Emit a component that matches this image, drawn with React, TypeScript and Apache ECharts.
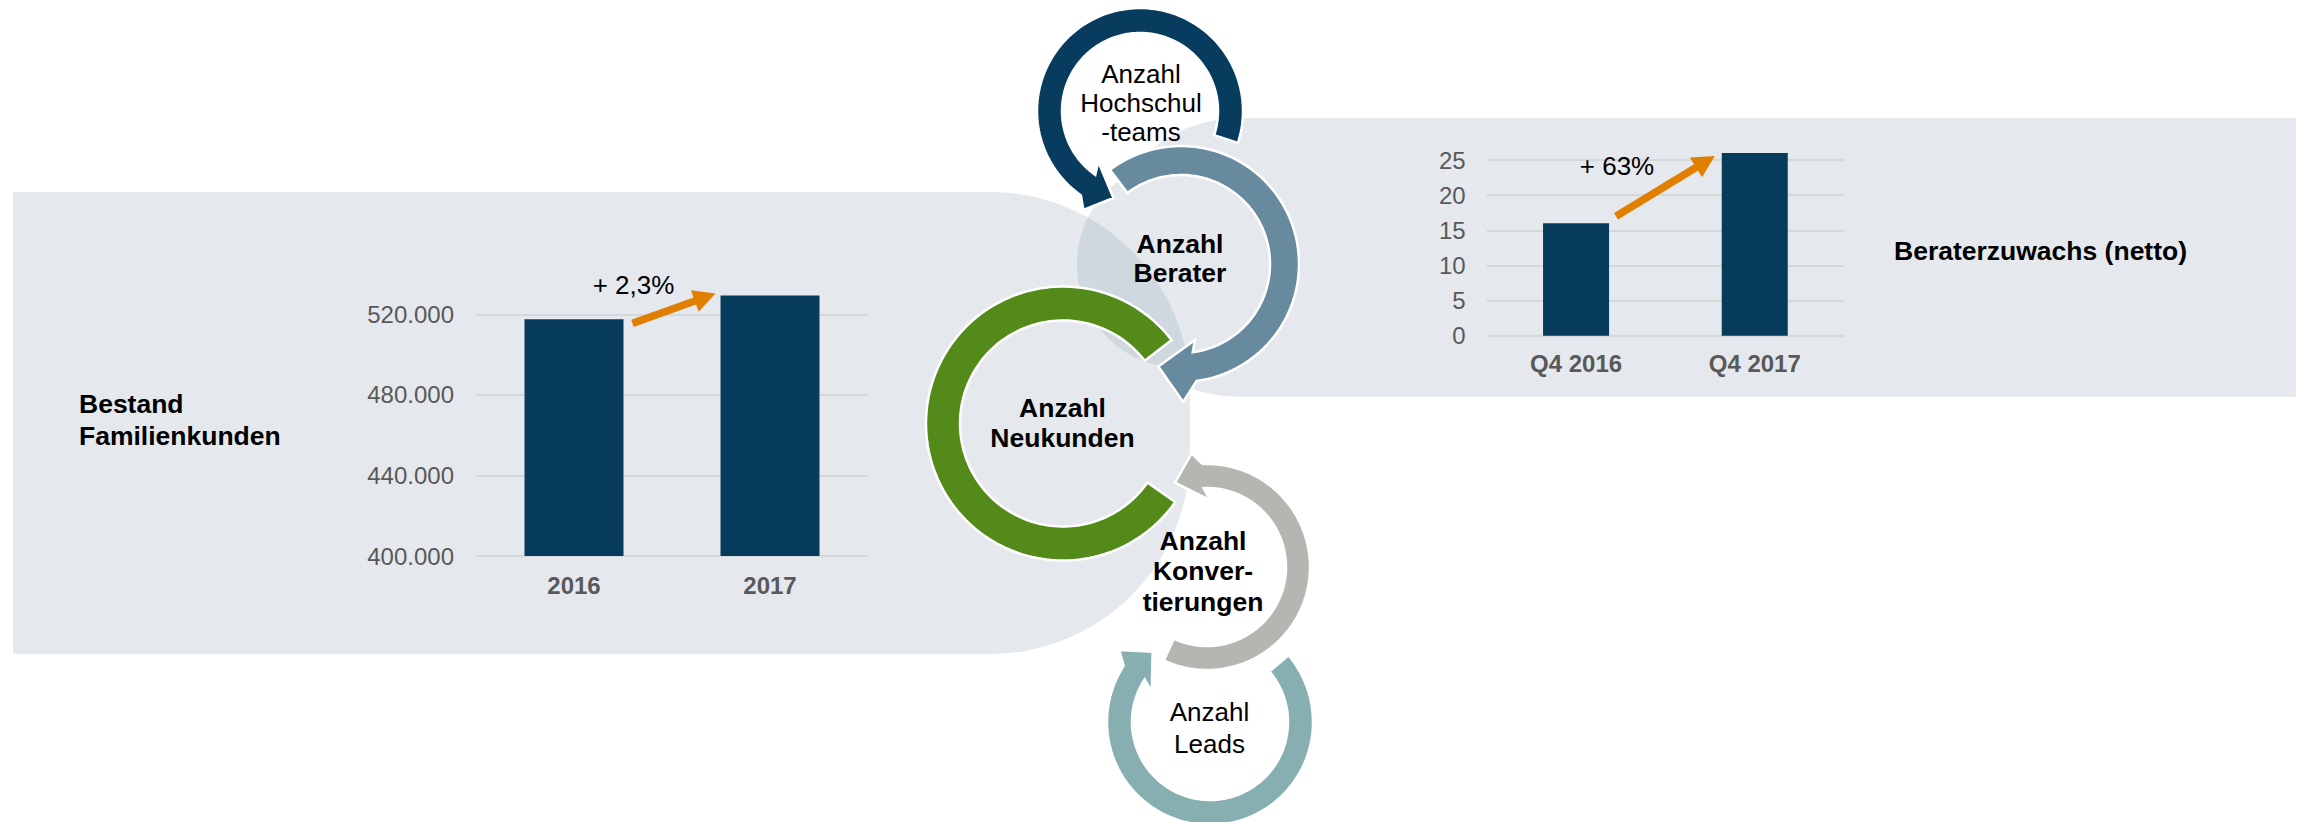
import { useEffect, useRef } from 'react';
import * as echarts from 'echarts';

// ---------------- data ----------------
const familyYears = ['2016', '2017'];
const familyCustomers = [517500, 529300];
const familyAxisMin = 400000;
const familyAxisMax = 532000;
const familyAxisStep = 40000;

const advisorQuarters = ['Q4 2016', 'Q4 2017'];
const advisorNetGrowth = [16, 26];
const advisorAxisMin = 0;
const advisorAxisMax = 27;
const advisorAxisStep = 5;

const familyChangeLabel = '+ 2,3%';
const advisorChangeLabel = '+ 63%';
const familyTitle = 'Bestand\nFamilienkunden';
const advisorTitle = 'Beraterzuwachs (netto)';

const cycleTexts = [
  'Anzahl\nHochschul\n-teams',
  'Anzahl\nBerater',
  'Anzahl\nNeukunden',
  'Anzahl\nKonver-\ntierungen',
  'Anzahl\nLeads',
];

// ---------------- styles / layout ----------------
const FONT = '"Liberation Sans", Arial, Helvetica, sans-serif';
const BAR_COLOR = '#063B5C';
const PANEL = '#E5E9ED';
const LENS = '#CED8DE';
const ORANGE = '#E07F00';
const AXIS_TEXT = '#595959';

const fmtDE = (v: number) => String(v).replace(/\B(?=(\d{3})+(?!\d))/g, '.');

const rad = (d: number) => (d * Math.PI) / 180;
const pt = (c: number[], r: number, a: number) => [c[0] + r * Math.cos(rad(a)), c[1] + r * Math.sin(rad(a))];
const arc = (c: number[], r: number, a0: number, a1: number) => {
  const n = Math.max(8, Math.ceil(Math.abs(a1 - a0) / 2));
  const out: number[][] = [];
  for (let i = 0; i <= n; i++) out.push(pt(c, r, a0 + ((a1 - a0) * i) / n));
  return out;
};

type Ring = {
  color: string;
  c: number[];
  rIn: number;
  rOut: number;
  start: number;
  end: number;
  head?: { outer: number[]; tip: number[]; inner: number[] };
};

const RINGS: Ring[] = [
  { color: '#548A19', c: [1063, 423.5], rIn: 103, rOut: 137, start: 35, end: 322.5 },
  {
    color: '#688A9E', c: [1181, 264], rIn: 89, rOut: 118, start: -127, end: 82.4,
    head: { outer: [138, 89.1], tip: [105, 102.5], inner: [77.3, 79.6] },
  },
  {
    color: '#073C5E', c: [1140, 111], rIn: 78, rOut: 103, start: 18, end: -235,
    head: { outer: [114, -240.2], tip: [91, -253], inner: [65.6, -230.6] },
  },
  {
    color: '#B3B6B1', c: [1207, 567], rIn: 79, rOut: 103, start: 114.8, end: -92.5,
    head: { outer: [114.7, -97.7], tip: [90.2, -110.8], inner: [67, -87.4] },
  },
  {
    color: '#87AFB1', c: [1210, 722], rIn: 78, rOut: 103, start: -40.4, end: 213,
    head: { outer: [115.8, 218.4], tip: [90.7, 230.8], inner: [65.7, 207.5] },
  },
];

const CYCLE_TEXT_POS = [
  { x: 1141, y: 102.5, bold: false, lh: 29 },
  { x: 1180, y: 258.5, bold: true, lh: 29 },
  { x: 1062.5, y: 422.7, bold: true, lh: 30 },
  { x: 1203, y: 571, bold: true, lh: 30.5 },
  { x: 1209.5, y: 727.7, bold: false, lh: 32 },
];

const ARROWS = [
  { grid: 0, half: 49.5, dx0: 9, dy0: 4, dx1: -5, dy1: -2 },
  { grid: 1, half: 33, dx0: 7, dy0: -7, dx1: -7, dy1: 3 },
];

function ringPoints(r: Ring) {
  const pts = [...arc(r.c, r.rOut, r.start, r.end)];
  if (r.head) {
    pts.push(pt(r.c, r.head.outer[0], r.head.outer[1]));
    pts.push(pt(r.c, r.head.tip[0], r.head.tip[1]));
    pts.push(pt(r.c, r.head.inner[0], r.head.inner[1]));
  }
  pts.push(...arc(r.c, r.rIn, r.end, r.start));
  return pts;
}

function lensPoints(cA: number[], rA: number, cB: number[], rB: number) {
  const dx = cB[0] - cA[0];
  const dy = cB[1] - cA[1];
  const d = Math.hypot(dx, dy);
  const a = (d * d + rA * rA - rB * rB) / (2 * d);
  const h = Math.sqrt(rA * rA - a * a);
  const ux = dx / d, uy = dy / d;
  const px = cA[0] + a * ux, py = cA[1] + a * uy;
  let i1 = [px - h * uy, py + h * ux];
  let i2 = [px + h * uy, py - h * ux];
  if (i1[1] > i2[1]) [i1, i2] = [i2, i1];
  const ang = (c: number[], p: number[]) => (Math.atan2(p[1] - c[1], p[0] - c[0]) * 180) / Math.PI;
  let a1 = ang(cA, i1), a2 = ang(cA, i2);
  if (a2 < a1) a2 += 360;
  let b2 = ang(cB, i2), b1 = ang(cB, i1);
  if (b1 < b2) b1 += 360;
  return [...arc(cA, rA, a1, a2), ...arc(cB, rB, b2, b1)];
}

function arrowPolygon(s: number[], e: number[]) {
  const w = 3.8, L = 22, h = 11.5;
  const dx = e[0] - s[0], dy = e[1] - s[1];
  const len = Math.hypot(dx, dy);
  const ux = dx / len, uy = dy / len;
  const nx = -uy, ny = ux;
  const b = [e[0] - ux * L, e[1] - uy * L];
  return [
    [s[0] + nx * w, s[1] + ny * w],
    [b[0] + nx * w, b[1] + ny * w],
    [b[0] + nx * h, b[1] + ny * h],
    [e[0], e[1]],
    [b[0] - nx * h, b[1] - ny * h],
    [b[0] - nx * w, b[1] - ny * w],
    [s[0] - nx * w, s[1] - ny * w],
  ];
}

function textEl(text: string, x: number, y: number, size: number, bold: boolean, align: string, lh: number, fill = '#000') {
  return {
    type: 'text',
    x,
    y,
    z: 20,
    silent: true,
    style: {
      text,
      fill,
      fontSize: size,
      fontFamily: FONT,
      fontWeight: bold ? 'bold' : 'normal',
      align,
      textAlign: align,
      verticalAlign: 'middle',
      textVerticalAlign: 'middle',
      lineHeight: lh,
    },
  };
}

function buildOption() {
  const pxPerUnitL = 241.7 / (520000 - familyAxisMin);
  const topL = 556 - (familyAxisMax - familyAxisMin) * pxPerUnitL;
  const pxPerUnitR = 175.7 / 25;
  const topR = 335.7 - (advisorAxisMax - advisorAxisMin) * pxPerUnitR;
  const catLabel = { color: AXIS_TEXT, fontSize: 24, fontWeight: 'bold', fontFamily: FONT };
  const valLabel = { color: AXIS_TEXT, fontSize: 24, fontFamily: FONT, showMaxLabel: false };
  const split = { show: true, showMaxLine: false, lineStyle: { color: '#D5D8DB', width: 2 } };
  return {
    animation: false,
    textStyle: { fontFamily: FONT },
    grid: [
      { left: 476, top: topL, width: 392, height: 556 - topL, containLabel: false, outerBoundsMode: 'none' },
      { left: 1486.7, top: topR, width: 357.4, height: 335.7 - topR, containLabel: false, outerBoundsMode: 'none' },
    ],
    xAxis: [
      {
        type: 'category', gridIndex: 0, data: familyYears,
        axisLine: { show: false }, axisTick: { show: false },
        axisLabel: { ...catLabel, margin: 17 },
      },
      {
        type: 'category', gridIndex: 1, data: advisorQuarters,
        axisLine: { show: false }, axisTick: { show: false },
        axisLabel: { ...catLabel, margin: 16 },
      },
    ],
    yAxis: [
      {
        type: 'value', gridIndex: 0, min: familyAxisMin, max: familyAxisMax, interval: familyAxisStep,
        axisLine: { show: false }, axisTick: { show: false }, splitLine: split,
        axisLabel: { ...valLabel, margin: 22, formatter: (v: number) => fmtDE(v) },
      },
      {
        type: 'value', gridIndex: 1, min: advisorAxisMin, max: advisorAxisMax, interval: advisorAxisStep,
        axisLine: { show: false }, axisTick: { show: false }, splitLine: split,
        axisLabel: { ...valLabel, margin: 21 },
      },
    ],
    series: [
      {
        type: 'bar', xAxisIndex: 0, yAxisIndex: 0, data: familyCustomers, barWidth: 99,
        itemStyle: { color: BAR_COLOR }, silent: true,
      },
      {
        type: 'bar', xAxisIndex: 1, yAxisIndex: 1, data: advisorNetGrowth, barWidth: 66,
        itemStyle: { color: BAR_COLOR }, silent: true,
      },
    ],
  };
}

export default function App() {
  const ref = useRef<HTMLDivElement>(null);
  useEffect(() => {
    const chart = echarts.init(ref.current as HTMLDivElement, null, { renderer: 'svg' });
    chart.setOption(buildOption() as any);

    const values = [familyCustomers, advisorNetGrowth];
    const arrowEls = ARROWS.map((a) => {
      const p0 = chart.convertToPixel({ gridIndex: a.grid } as any, [0, values[a.grid][0]]) as number[];
      const p1 = chart.convertToPixel({ gridIndex: a.grid } as any, [1, values[a.grid][1]]) as number[];
      const s = [p0[0] + a.half + a.dx0, p0[1] + a.dy0];
      const e = [p1[0] - a.half + a.dx1, p1[1] + a.dy1];
      return { type: 'polygon', z: 15, silent: true, shape: { points: arrowPolygon(s, e) }, style: { fill: ORANGE } };
    });

    const background = [
      { type: 'rect', z: -5, silent: true, shape: { x: 13, y: 192, width: 1177, height: 462, r: [0, 200, 200, 0] }, style: { fill: PANEL } },
      { type: 'rect', z: -5, silent: true, shape: { x: 1100, y: 118, width: 1196, height: 279, r: [139.5, 0, 0, 139.5] }, style: { fill: PANEL } },
      { type: 'circle', z: -5, silent: true, shape: { cx: 1181, cy: 264, r: 104 }, style: { fill: PANEL } },
      { type: 'polygon', z: -4, silent: true, shape: { points: lensPoints([990, 392], 200, [1181, 264], 104) }, style: { fill: LENS } },
    ];

    const ringEls = RINGS.map((r, i) => ({
      type: 'polygon',
      z: 10 + i * 0.1,
      silent: true,
      shape: { points: ringPoints(r) },
      style: { fill: r.color, stroke: '#ffffff', lineWidth: 2.5, lineJoin: 'miter' },
    }));

    const texts = [
      ...cycleTexts.map((t, i) => textEl(t, CYCLE_TEXT_POS[i].x, CYCLE_TEXT_POS[i].y, CYCLE_TEXT_POS[i].bold ? 26.5 : 26, CYCLE_TEXT_POS[i].bold, 'center', CYCLE_TEXT_POS[i].lh)),
      textEl(familyTitle, 79, 420, 26.5, true, 'left', 32.5),
      textEl(advisorTitle, 1894, 250.5, 26.5, true, 'left', 30),
      textEl(familyChangeLabel, 633.5, 284.5, 26, false, 'center', 30),
      textEl(advisorChangeLabel, 1617, 165.5, 26, false, 'center', 30),
    ];

    chart.setOption({ graphic: { elements: [...background, ...ringEls, ...arrowEls, ...texts] } } as any);

    return () => chart.dispose();
  }, []);

  return <div ref={ref} style={{ position: 'absolute', left: 0, top: 0, width: 2305, height: 822 }} />;
}
